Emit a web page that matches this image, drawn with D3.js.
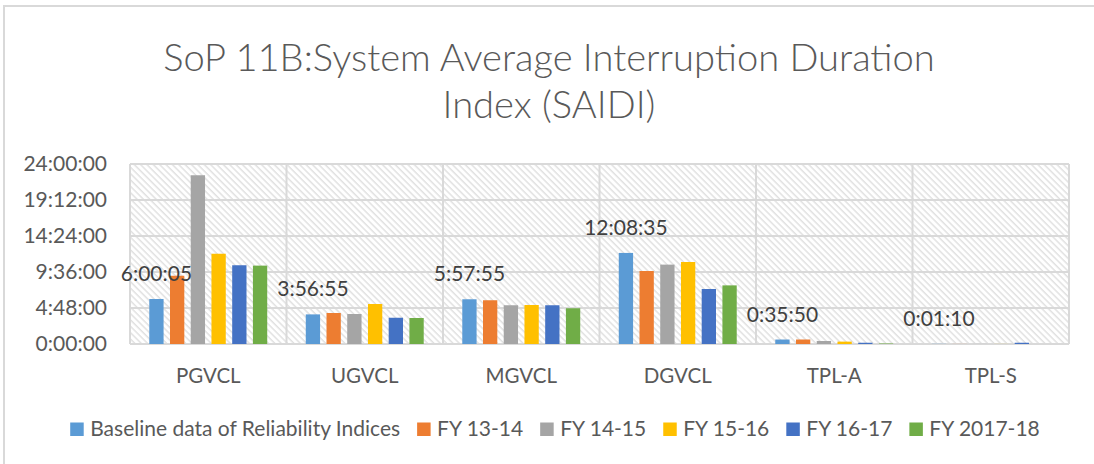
<!DOCTYPE html>
<html>
<head>
<meta charset="utf-8">
<script src="https://cdn.jsdelivr.net/npm/d3@7"></script>
<style>
body { margin: 0; background: #fff; }
svg { display: block; font-family: Lato, "Open Sans", sans-serif; }
</style>
</head>
<body>
<svg id="chart" width="1094" height="464"></svg>
<script>
const categories = ["PGVCL", "UGVCL", "MGVCL", "DGVCL", "TPL-A", "TPL-S"];
const seriesNames = ["Baseline data of Reliability Indices", "FY 13-14", "FY 14-15", "FY 15-16", "FY 16-17", "FY 2017-18"];
const seriesColors = ["#5B9BD5", "#ED7D31", "#A5A5A5", "#FFC000", "#4472C4", "#70AD47"];

// durations as h:mm:ss
const baseline = ["6:00:05", "3:56:55", "5:57:55", "12:08:35", "0:35:50", "0:01:10"];
const fy1314 = ["9:06:00", "4:08:00", "5:50:00", "9:44:00", "0:36:00", "0:00:30"];
const fy1415 = ["22:30:00", "4:00:00", "5:10:00", "10:35:00", "0:24:00", "0:00:40"];
const fy1516 = ["12:02:00", "5:20:00", "5:12:00", "10:56:00", "0:19:00", "0:00:30"];
const fy1617 = ["10:30:00", "3:30:00", "5:10:00", "7:20:00", "0:10:00", "0:10:00"];
const fy1718 = ["10:27:00", "3:28:00", "4:46:00", "7:49:00", "0:04:00", "0:00:00"];

const yTicks = ["0:00:00", "4:48:00", "9:36:00", "14:24:00", "19:12:00", "24:00:00"];
const titleLines = ["SoP 11B:System Average Interruption Duration", "Index (SAIDI)"];

const allSeries = [baseline, fy1314, fy1415, fy1516, fy1617, fy1718];

function toHours(s) {
  const p = s.split(":").map(Number);
  return p[0] + p[1] / 60 + p[2] / 3600;
}

const rows = categories.map((c, i) => ({
  cat: c,
  vals: allSeries.map((s, j) => ({ key: seriesNames[j], v: toHours(s[i]), label: s[i] }))
}));

const textColor = "#595959";
const gridColor = "#D9D9D9";
const plot = { left: 130, right: 1069, top: 164, bottom: 344 };

const svg = d3.select("#chart");

// chart frame
svg.append("rect")
  .attr("x", 4).attr("y", 6)
  .attr("width", 1100).attr("height", 470)
  .attr("fill", "#fff")
  .attr("stroke", gridColor)
  .attr("stroke-width", 2);

// hatch pattern
const defs = svg.append("defs");
const pat = defs.append("pattern")
  .attr("id", "hatch")
  .attr("patternUnits", "userSpaceOnUse")
  .attr("width", 4.5).attr("height", 4.5)
  .attr("patternTransform", "rotate(-45)");
pat.append("line")
  .attr("x1", 1).attr("y1", 0).attr("x2", 1).attr("y2", 4.5)
  .attr("stroke", "#D2D2D2")
  .attr("stroke-width", 1);

// title
const title = svg.append("text")
  .attr("text-anchor", "middle")
  .attr("fill", textColor)
  .style("font-weight", 300)
  .style("font-size", "36px");
title.selectAll("tspan")
  .data(titleLines)
  .join("tspan")
  .attr("x", 549)
  .attr("y", (d, i) => 71 + i * 47)
  .text(d => d);
// fit first line to the reference width
const w0 = title.select("tspan").node().getComputedTextLength();
title.style("font-size", (36 * 772 / w0) + "px");

// scales
const x0 = d3.scaleBand()
  .domain(categories)
  .range([plot.left, plot.right])
  .padding(0);

const x1 = d3.scaleBand()
  .domain(seriesNames)
  .range([0, x0.bandwidth()])
  .paddingInner(0.31)
  .paddingOuter(0.93);

const y = d3.scaleLinear()
  .domain([0, 24])
  .range([plot.bottom, plot.top]);

// plot background
svg.append("rect")
  .attr("x", plot.left).attr("y", plot.top)
  .attr("width", plot.right - plot.left)
  .attr("height", plot.bottom - plot.top)
  .attr("fill", "url(#hatch)");

// horizontal grid
svg.append("g")
  .selectAll("line")
  .data(yTicks)
  .join("line")
  .attr("x1", plot.left).attr("x2", plot.right)
  .attr("y1", d => y(toHours(d))).attr("y2", d => y(toHours(d)))
  .attr("stroke", gridColor)
  .attr("stroke-width", 2);

// vertical grid at category edges
const edges = categories.map(c => x0(c)).concat([plot.right]);
svg.append("g")
  .selectAll("line")
  .data(edges)
  .join("line")
  .attr("x1", d => d).attr("x2", d => d)
  .attr("y1", plot.top).attr("y2", plot.bottom)
  .attr("stroke", gridColor)
  .attr("stroke-width", 2);

// y axis labels
const yAxis = d3.axisLeft(y)
  .tickValues(yTicks.map(toHours))
  .tickFormat((d, i) => yTicks[i])
  .tickSize(0)
  .tickPadding(0);

svg.append("g")
  .attr("transform", `translate(${plot.left - 23},0)`)
  .call(yAxis)
  .call(g => g.select(".domain").remove())
  .call(g => g.selectAll("text")
    .attr("fill", textColor)
    .style("font-family", "Lato, sans-serif")
    .style("font-size", "21px"));

// x axis labels
const xAxis = d3.axisBottom(x0).tickSize(0).tickPadding(0);
svg.append("g")
  .attr("transform", `translate(0,${plot.bottom + 24})`)
  .call(xAxis)
  .call(g => g.select(".domain").remove())
  .call(g => g.selectAll("text")
    .attr("fill", textColor)
    .style("font-family", "Lato, sans-serif")
    .style("font-size", "20.5px"));

// bars
const groups = svg.append("g")
  .selectAll("g")
  .data(rows)
  .join("g")
  .attr("transform", d => `translate(${x0(d.cat)},0)`);

groups.selectAll("rect")
  .data(d => d.vals)
  .join("rect")
  .attr("x", d => x1(d.key))
  .attr("width", x1.bandwidth())
  .attr("y", d => y(d.v))
  .attr("height", d => y(0) - y(d.v))
  .attr("fill", (d, i) => seriesColors[i]);

// data labels for the baseline series
groups.append("text")
  .datum(d => d.vals[0])
  .attr("x", d => x1(d.key) + x1.bandwidth() / 2)
  .attr("y", d => y(d.v) - 18)
  .attr("text-anchor", "middle")
  .attr("fill", "#404040")
  .style("font-size", "21px")
  .text(d => d.label);

// legend
const legend = svg.append("g").attr("transform", "translate(0,436)");
const items = legend.selectAll("g")
  .data(seriesNames)
  .join("g");

items.append("rect")
  .attr("y", -13.5)
  .attr("width", 13.5).attr("height", 13.5)
  .attr("fill", (d, i) => seriesColors[i]);

items.append("text")
  .attr("x", 20)
  .attr("fill", textColor)
  .style("font-size", "21px")
  .text(d => d);

let offset = 0;
const widths = [];
items.each(function () {
  const tw = d3.select(this).select("text").node().getComputedTextLength();
  widths.push(offset);
  offset += 20 + tw + 17;
});
const totalW = offset - 17;
const startX = 555 - totalW / 2;
items.attr("transform", (d, i) => `translate(${startX + widths[i]},0)`);
</script>
</body>
</html>
